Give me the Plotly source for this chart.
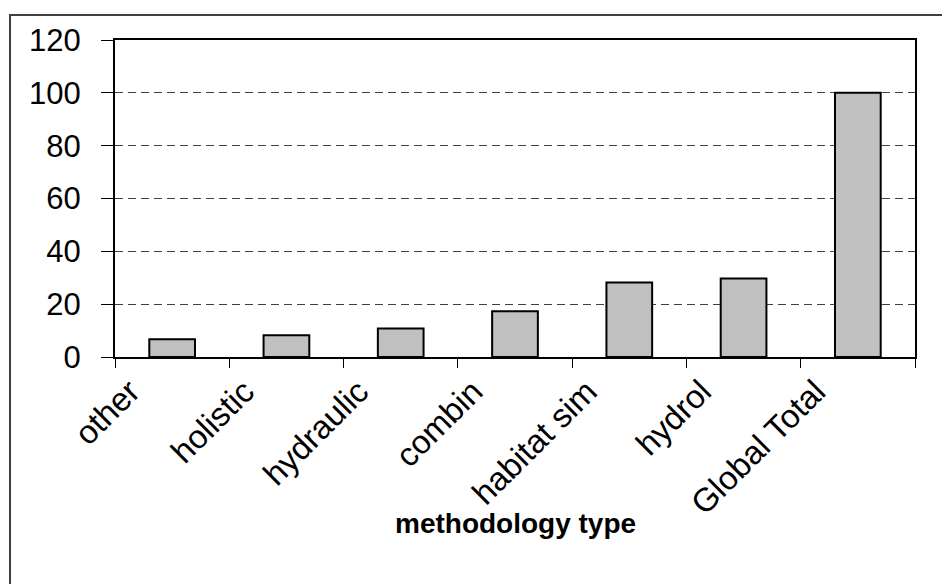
import plotly.graph_objects as go

categories = ["other", "holistic", "hydraulic", "combin", "habitat sim", "hydrol", "Global Total"]
values = [6.7, 8.2, 10.8, 17.3, 28.2, 29.7, 100]
y_ticks = [0, 20, 40, 60, 80, 100, 120]
x_title = "methodology type"

fig = go.Figure()
fig.add_trace(go.Bar(
    x=categories, y=values,
    marker=dict(color="#c0c0c0", line=dict(color="black", width=2)),
    width=0.4,
))

W, H = 950, 584
OFF = 8  # page offset compensation
L, T = 115 - OFF, 40 - OFF
pw, ph = 800, 317
R = W - L - pw
B = H - T - ph

fig.update_layout(
    width=W, height=H,
    margin=dict(l=L, r=R, t=T, b=B),
    paper_bgcolor="white", plot_bgcolor="white",
    showlegend=False,
    font=dict(family="Liberation Sans, Arial, sans-serif", color="black"),
    xaxis=dict(
        type="category",
        showline=True, linecolor="black", linewidth=2, mirror=True,
        ticks="outside", ticklen=9, tickcolor="black", tickwidth=1,
        tickson="boundaries",
        tickangle=-45, tickfont=dict(size=33),
        ticklabelshift=-42,
        showgrid=False,
    ),
    yaxis=dict(
        range=[0, 120], tickvals=y_ticks,
        showline=True, linecolor="black", linewidth=2, mirror=True,
        ticks="outside", ticklen=12, tickcolor="black", tickwidth=1,
        tickfont=dict(size=31),
        ticklabelstandoff=14,
        showgrid=True, gridcolor="#404040", gridwidth=1, griddash="8px,5px",
        zeroline=False,
    ),
    annotations=[dict(
        text="<b>" + x_title + "</b>", xref="paper", yref="paper",
        x=0.5, y=-166 / ph, xanchor="center", yanchor="middle",
        showarrow=False, font=dict(size=28),
    )],
    shapes=[dict(
        type="rect", xref="paper", yref="paper",
        x0=(10 - OFF - L) / pw, x1=(W + 20 - L) / pw,
        y0=-(B + 20) / ph, y1=(ph + T - (15 - OFF)) / ph,
        line=dict(color="#404040", width=2), layer="below",
    )],
)

fig.write_html("out.html")
